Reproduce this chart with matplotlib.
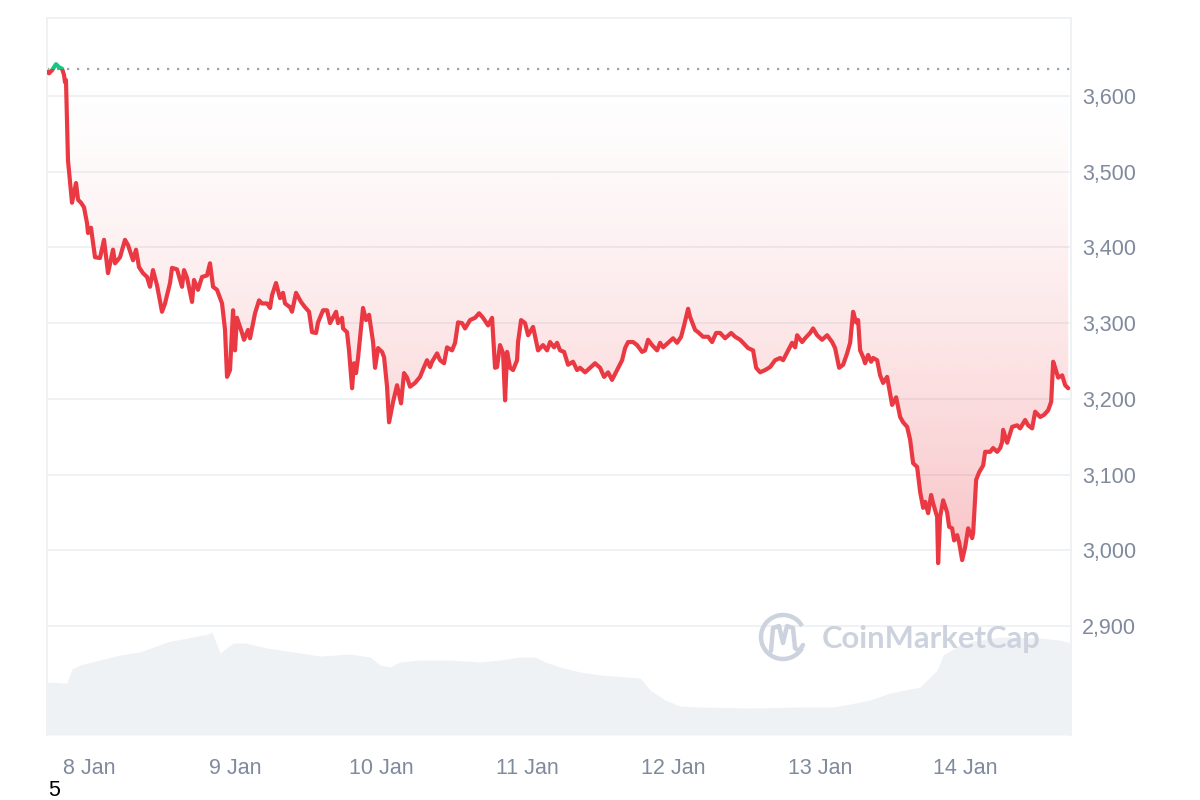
import numpy as np
import matplotlib
matplotlib.use("Agg")
import matplotlib.pyplot as plt
from matplotlib.patches import Rectangle, Arc
from matplotlib.path import Path
import matplotlib.patches as mpatches

# ---------------- data (hours since 7 Jan 17:00, price USD) ----------------
hours = [0, 0.33, 0.82, 1.48, 1.97, 2.47, 2.79, 2.96, 3.12, 3.45,
         4.11, 4.77, 5.10, 5.59, 6.08, 6.58, 6.74, 7.23, 7.89, 8.71,
         9.37, 10.03, 10.85, 11.18, 12.0, 12.82, 13.32, 14.14, 14.63, 15.12,
         15.78, 16.44, 16.93, 17.42, 18.08, 18.90, 19.40, 20.22, 20.55, 21.37,
         22.19, 22.52, 23.01, 23.84, 24.16, 24.82, 25.48, 26.30, 26.79, 27.29,
         27.94, 28.77, 29.26, 29.59, 30.08, 30.58, 30.90, 31.23, 32.05, 32.38,
         33.04, 33.37, 34.19, 34.85, 35.34, 36.16, 36.66, 36.99, 37.64, 38.30,
         38.79, 39.12, 39.94, 40.27, 40.93, 41.75, 42.41, 43.07, 43.56, 44.22,
         44.55, 45.37, 46.03, 46.52, 47.51, 47.83, 48.49, 48.66, 49.31, 49.64,
         50.14, 50.46, 50.79, 51.12, 51.94, 52.44, 52.93, 53.59, 53.92, 54.41,
         55.07, 55.40, 55.89, 56.22, 56.88, 57.53, 58.19, 58.68, 59.18, 59.67,
         60.49, 61.31, 61.97, 62.46, 62.96, 63.29, 64.11, 64.60, 65.26, 65.75,
         66.57, 67.07, 67.56, 68.22, 68.71, 69.53, 70.35, 71.01, 71.67, 72.49,
         73.15, 73.64, 73.97, 74.46, 74.96, 75.29, 75.62, 76.11, 76.60, 77.26,
         77.42, 77.92, 78.57, 79.07, 79.89, 80.71, 81.53, 82.19, 82.68, 83.34,
         83.83, 84.33, 84.98, 85.64, 86.46, 87.12, 87.61, 88.44, 89.26, 90.08,
         90.90, 91.56, 92.22, 92.87, 93.70, 94.52, 95.01, 95.50, 96.33, 96.98,
         97.81, 98.30, 98.79, 99.45, 100.27, 100.76, 101.26, 102.08, 102.90, 103.56,
         104.22, 104.71, 105.37, 105.70, 106.52, 107.01, 107.83, 108.66, 109.31, 109.97,
         110.63, 111.45, 112.44, 113.10, 113.92, 114.41, 115.23, 116.05, 116.55, 117.20,
         118.02, 118.85, 119.67, 120.49, 120.98, 121.81, 122.46, 122.96, 123.29, 124.11,
         124.60, 125.42, 125.91, 126.57, 127.39, 128.22, 129.04, 129.53, 130.19, 130.85,
         131.50, 132.00, 132.49, 132.98, 133.31, 133.64, 134.14, 134.46, 134.96, 135.45,
         135.78, 136.44, 136.93, 137.42, 138.08, 138.90, 139.56, 140.22, 140.71, 141.37,
         141.86, 142.35, 143.01, 143.51, 144.00, 144.33, 144.82, 145.31, 145.64, 146.30,
         146.46, 146.79, 147.29, 147.94, 148.27, 148.76, 149.09, 149.59, 149.92, 150.41,
         150.90, 151.40, 152.05, 152.22, 152.71, 153.20, 153.86, 154.19, 155.01, 155.50,
         156.16, 156.66, 156.98, 157.15, 157.81, 158.63, 159.45, 159.94, 160.76, 161.26,
         161.91, 162.41, 163.23, 163.89, 164.55, 165.04, 165.37, 165.70, 166.19, 166.85,
         167.34, 167.84]
price = [3632, 3630, 3634, 3642, 3638, 3636, 3628, 3618, 3621, 3515,
         3459, 3485, 3463, 3459, 3453, 3432, 3419, 3426, 3387, 3386,
         3410, 3366, 3397, 3379, 3387, 3410, 3403, 3383, 3397, 3374,
         3366, 3361, 3348, 3370, 3350, 3315, 3326, 3353, 3373, 3371,
         3348, 3370, 3360, 3328, 3357, 3344, 3361, 3363, 3379, 3348,
         3344, 3326, 3291, 3229, 3238, 3317, 3264, 3307, 3287, 3278,
         3291, 3280, 3313, 3330, 3326, 3326, 3320, 3337, 3353, 3333,
         3340, 3326, 3321, 3315, 3340, 3328, 3321, 3315, 3288, 3287,
         3301, 3317, 3317, 3300, 3315, 3300, 3307, 3293, 3288, 3264,
         3214, 3247, 3234, 3254, 3320, 3304, 3311, 3275, 3241, 3267,
         3262, 3255, 3216, 3169, 3196, 3218, 3194, 3234, 3228, 3216,
         3221, 3229, 3242, 3251, 3242, 3249, 3260, 3251, 3247, 3268,
         3264, 3274, 3301, 3300, 3293, 3304, 3307, 3313, 3307, 3297,
         3307, 3241, 3242, 3271, 3260, 3198, 3262, 3241, 3238, 3251,
         3275, 3304, 3300, 3284, 3295, 3264, 3271, 3264, 3275, 3268,
         3274, 3264, 3262, 3245, 3249, 3238, 3241, 3235, 3241, 3247,
         3241, 3229, 3235, 3225, 3238, 3251, 3267, 3275, 3275, 3271,
         3262, 3264, 3278, 3271, 3264, 3274, 3268, 3274, 3280, 3274,
         3282, 3297, 3319, 3308, 3291, 3288, 3282, 3282, 3275, 3287,
         3287, 3280, 3287, 3282, 3278, 3274, 3267, 3264, 3241, 3235,
         3238, 3242, 3251, 3254, 3251, 3264, 3274, 3268, 3284, 3275,
         3280, 3287, 3293, 3284, 3278, 3284, 3275, 3267, 3241, 3245,
         3260, 3274, 3315, 3301, 3304, 3264, 3255, 3247, 3258, 3249,
         3254, 3251, 3231, 3221, 3229, 3192, 3202, 3176, 3169, 3163,
         3146, 3115, 3110, 3077, 3056, 3064, 3049, 3073, 3062, 3044,
         2983, 3044, 3066, 3050, 3031, 3029, 3013, 3020, 3010, 2987,
         3004, 3029, 3016, 3023, 3093, 3103, 3112, 3130, 3130, 3135,
         3130, 3135, 3143, 3159, 3142, 3163, 3165, 3161, 3172, 3165,
         3161, 3183, 3176, 3179, 3185, 3196, 3249, 3241, 3228, 3231,
         3218, 3214]

vol_hours = [0, 2.47, 3.29, 4.11, 5.42, 8.71, 12.0, 15.29, 19.73, 23.01,
             26.47, 27.12, 28.44, 30.58, 32.55, 36.16, 41.59, 44.88, 49.81, 53.10,
             54.74, 56.38, 58.03, 61.31, 66.25, 71.18, 74.46, 77.75, 80.22, 81.86,
             84.33, 87.61, 90.90, 97.48, 99.12, 101.59, 104.05, 107.34, 115.56, 123.78,
             129.20, 132.0, 135.28, 138.57, 143.51, 146.30, 147.29, 150.08, 152.22, 156.66,
             163.23, 166.52, 168.3]
volume_b = [26.5, 26.0, 26.0, 33.0, 35.0, 37.5, 40.0, 41.5, 46.5, 48.5,
            50.5, 51.5, 41.0, 46.0, 46.0, 43.5, 41.0, 39.5, 40.5, 39.0,
            35.0, 34.0, 36.5, 37.5, 37.5, 36.5, 37.5, 39.0, 39.0, 36.5,
            34.0, 31.5, 30.0, 28.5, 22.5, 17.5, 14.5, 14.0, 13.5, 14.0,
            14.0, 15.5, 17.5, 21.0, 24.0, 32.5, 40.0, 45.0, 47.0, 49.0,
            48.5, 47.5, 46.0]

baseline = 3636
yticks = [2900, 3000, 3100, 3200, 3300, 3400, 3500, 3600]
ytick_labels = ["2,900", "3,000", "3,100", "3,200", "3,300", "3,400", "3,500", "3,600"]
xtick_hours = [7, 31, 55, 79, 103, 127, 151]
xtick_labels = ["8 Jan", "9 Jan", "10 Jan", "11 Jan", "12 Jan", "13 Jan", "14 Jan"]

# ---------------- styling ----------------
RED = "#ea3943"
GREEN = "#16c784"
GRID = "#eff2f5"
TXT = "#808a9d"
FONT = "Liberation Sans"

t = np.array(hours)
p = np.array(price)
x0, x1 = 0.0, 168.3
y0, y1 = 2756, 3703

fig = plt.figure(figsize=(12, 8), dpi=100)
rect = [47 / 1200, 65 / 800, (1071 - 47) / 1200, (735 - 18) / 800]

# volume axis (behind)
axv = fig.add_axes(rect, zorder=0)
axv.fill_between(vol_hours, 0, volume_b, color="#eff2f5", lw=0)
axv.set_xlim(x0, x1)
axv.set_ylim(0, 717 / 2)
axv.axis("off")

# price axis
ax = fig.add_axes(rect, zorder=1)
ax.set_facecolor("none")
ax.set_xlim(x0, x1)
ax.set_ylim(y0, y1)

for yv in yticks:
    ax.axhline(yv, color=GRID, lw=1.4, zorder=0)

for s in ["left", "right", "top"]:
    ax.spines[s].set_color(GRID)
    ax.spines[s].set_linewidth(1.4)
ax.spines["bottom"].set_visible(False)

# gradient fill between line and baseline
poly = ax.fill_between(t, np.minimum(p, baseline), baseline, color="none", lw=0)
clip = Path.make_compound_path(*poly.get_paths())
n = 256
f = np.linspace(1, 0, n)  # row 0 = bottom (lowest price), last row = baseline
alpha = 0.30 * f ** 1.4
grad = np.zeros((n, 1, 4))
grad[..., 0] = 234 / 255
grad[..., 1] = 57 / 255
grad[..., 2] = 67 / 255
grad[..., 3] = alpha[:, None]
im = ax.imshow(grad, extent=[x0, x1, min(price), baseline], origin="lower",
               aspect="auto", zorder=1, interpolation="bilinear")
im.set_clip_path(clip, transform=ax.transData)

# dotted baseline
ax.axhline(baseline, color="#9aa1ad", lw=1.6, ls=(0, (1, 3.5)), zorder=2)

# price line, red below baseline, green above
l_red, = ax.plot(t, p, color=RED, lw=3.0, zorder=3, solid_joinstyle="round", solid_capstyle="round")
l_red.set_clip_path(Rectangle((x0, y0), x1 - x0, baseline - y0, transform=ax.transData))
l_grn, = ax.plot(t, p, color=GREEN, lw=3.0, zorder=3, solid_joinstyle="round", solid_capstyle="round")
l_grn.set_clip_path(Rectangle((x0, baseline), x1 - x0, y1 - baseline, transform=ax.transData))

# ticks
ax.yaxis.tick_right()
ax.set_yticks(yticks)
ax.set_yticklabels(ytick_labels, fontfamily=FONT, fontsize=15.5, color=TXT)
ax.set_xticks(xtick_hours)
ax.set_xticklabels(xtick_labels, fontfamily=FONT, fontsize=15.5, color=TXT)
ax.tick_params(axis="y", length=0, pad=8)
ax.tick_params(axis="x", length=0, pad=16.5)

# overlay for watermark and stray label (pixel coordinates)
ov = fig.add_axes([0, 0, 1, 1], zorder=2)
ov.set_xlim(0, 1200)
ov.set_ylim(800, 0)
ov.axis("off")
WM = "#cdd3de"
ov.add_patch(Arc((783, 637), 44, 44, theta1=30, theta2=330, color=WM, lw=3.2))
mpath = Path([(771, 651), (773, 628), (779, 626), (783, 643),
              (787, 626), (793, 628), (795, 648), (799, 651), (803, 645)],
             [Path.MOVETO] + [Path.LINETO] * 8)
ov.add_patch(mpatches.PathPatch(mpath, fill=False, color=WM, lw=3.2, joinstyle="round", capstyle="round"))
ov.text(822, 639, "CoinMarketCap", fontfamily="Lato", fontweight="bold", fontsize=22.3,
        color=WM, ha="left", va="center")
ov.text(48, 796, "5", fontfamily=FONT, fontsize=15.5, color="black", ha="left", va="baseline")

fig.savefig("out.png", dpi=100, facecolor="white")
